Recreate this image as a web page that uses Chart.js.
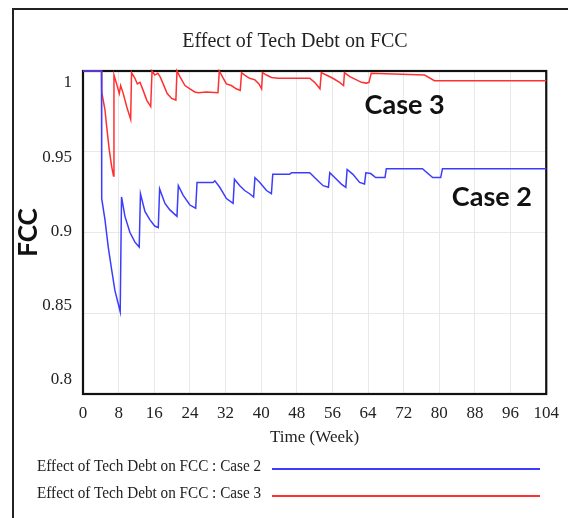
<!DOCTYPE html>
<html>
<head>
<meta charset="utf-8">
<title>Effect of Tech Debt on FCC</title>
<script src="https://cdn.jsdelivr.net/npm/chart.js@4.4.1/dist/chart.umd.min.js"></script>
<style>
    body { margin: 0; background: #fff; overflow: hidden; }
    #wrap { position: relative; width: 568px; height: 518px; }
    #frame {
        position: absolute; left: 12px; top: 8px; width: 600px; height: 600px;
        border-left: 2px solid #222; border-top: 2px solid #222;
    }
    #wrap canvas { position: absolute; left: 0; top: 0; }
</style>
</head>
<body>
<div id="wrap">
    <div id="frame"></div>
    <canvas id="fccChart" width="568" height="518"></canvas>
</div>
<script>
// Data (time in weeks, FCC value)
const xTicks = [0, 8, 16, 24, 32, 40, 48, 56, 64, 72, 80, 88, 96, 104];
const yTicks = [0.8, 0.85, 0.9, 0.95, 1];

const case2Time = [0, 4.15, 4.2, 4.93, 5.67, 6.43, 7.17, 8.35, 8.65, 9.42, 10.54, 11.66, 12.62, 12.9, 13.9, 15.0, 16.1, 16.9, 17.2, 18.4, 19.5, 21.1, 21.4, 22.5, 24.0, 25.3, 25.6, 29.2, 29.6, 30.7, 32.2, 33.7, 34.0, 35.2, 36.3, 37.4, 38.3, 38.6, 39.7, 41.2, 42.3, 42.6, 46.4, 46.8, 50.9, 52.4, 53.9, 55.1, 55.4, 56.5, 58.0, 59.0, 59.3, 60.6, 62.1, 63.2, 63.5, 64.6, 65.7, 67.8, 68.1, 76.2, 78.5, 80.3, 80.7, 104];
const case2Value = [1, 1, 0.921, 0.908, 0.891, 0.877, 0.864, 0.851, 0.922, 0.910, 0.900, 0.894, 0.891, 0.924, 0.913, 0.908, 0.904, 0.903, 0.927, 0.918, 0.914, 0.910, 0.929, 0.923, 0.917, 0.915, 0.931, 0.931, 0.932, 0.928, 0.921, 0.918, 0.933, 0.929, 0.926, 0.924, 0.922, 0.934, 0.931, 0.926, 0.924, 0.936, 0.936, 0.937, 0.937, 0.933, 0.929, 0.928, 0.937, 0.934, 0.930, 0.928, 0.939, 0.936, 0.931, 0.930, 0.937, 0.9365, 0.934, 0.934, 0.9395, 0.9395, 0.934, 0.934, 0.9395, 0.9395];

const case3Time = [0, 4.15, 4.2, 4.93, 5.3, 5.9, 6.43, 6.85, 6.95, 7.55, 8.14, 8.45, 9.04, 9.8, 10.7, 10.9, 11.66, 12.2, 12.8, 13.5, 14.3, 15.2, 15.5, 16.1, 16.8, 17.3, 18.0, 18.9, 19.9, 20.85, 21.1, 21.75, 22.9, 24.0, 25.1, 25.9, 27.7, 30.3, 30.6, 31.5, 32.2, 33.3, 34.4, 35.3, 35.6, 36.3, 37.4, 38.6, 39.5, 40.1, 40.3, 41.2, 42.3, 43.8, 50.9, 52.0, 53.2, 53.5, 54.6, 56.1, 57.6, 58.5, 58.7, 59.9, 61.4, 62.5, 63.6, 64.2, 64.7, 76.7, 78.9, 104];
const case3Value = [1, 1, 0.987, 0.976, 0.966, 0.951, 0.941, 0.935, 0.9975, 0.992, 0.986, 0.991, 0.986, 0.978, 0.970, 0.999, 0.9955, 0.992, 0.993, 0.988, 0.982, 0.978, 1.0, 0.9975, 0.9986, 0.9965, 0.992, 0.986, 0.983, 0.982, 1.0, 0.9965, 0.991, 0.989, 0.987, 0.9866, 0.987, 0.9866, 1.0, 0.9955, 0.992, 0.991, 0.989, 0.988, 0.999, 0.9975, 0.9955, 0.9945, 0.992, 0.989, 0.999, 0.9975, 0.996, 0.9955, 0.9955, 0.993, 0.989, 0.999, 0.9975, 0.9955, 0.993, 0.991, 0.999, 0.9965, 0.9945, 0.993, 0.9925, 0.993, 0.9986, 0.9975, 0.994, 0.994];

// text labels placed in data units (week, FCC)
const caseLabels = ['Case 3', 'Case 2'];
const caseLabelX = [72.2, 91.8];
const caseLabelY = [0.979, 0.922];

const serif = 'Liberation Serif, Times New Roman, serif';
const textColor = '#222';
const gridColor = '#e8e8e8';

function toPoints(times, values) {
    return times.map((t, i) => ({ x: t, y: values[i] }));
}

function setTicks(list) {
    return scale => { scale.ticks = list.map(v => ({ value: v })); };
}

// Plot border, "Case" labels and the bottom legend
const extras = {
    id: 'extras',
    beforeDatasetsDraw(chart) {
        const { ctx, chartArea: a } = chart;
        ctx.save();
        ctx.strokeStyle = '#111';
        ctx.lineWidth = 2.2;
        ctx.strokeRect(a.left, a.top, a.right - a.left, a.bottom - a.top);
        ctx.restore();
    },
    afterDatasetsDraw(chart) {
        const { ctx, scales } = chart;
        ctx.save();
        ctx.font = 'bold 27px Lato, "Open Sans", sans-serif';
        ctx.fillStyle = '#111';
        ctx.textAlign = 'center';
        ctx.textBaseline = 'middle';
        caseLabels.forEach((txt, i) => {
            ctx.fillText(txt, scales.x.getPixelForValue(caseLabelX[i]), scales.y.getPixelForValue(caseLabelY[i]));
        });
        ctx.restore();
    },
    afterDraw(chart) {
        const ctx = chart.ctx;
        chart.data.datasets.forEach((ds, i) => {
            const y = 467 + i * 27;
            // legend text is a little condensed in the reference
            ctx.save();
            ctx.font = '16px ' + serif;
            ctx.textBaseline = 'middle';
            ctx.textAlign = 'left';
            ctx.fillStyle = textColor;
            ctx.translate(37, y);
            ctx.scale(0.95, 1);
            ctx.fillText(ds.label, 0, 0);
            ctx.restore();

            ctx.save();
            ctx.strokeStyle = ds.borderColor;
            ctx.lineWidth = 2;
            ctx.beginPath();
            ctx.moveTo(272, y + 2);
            ctx.lineTo(540, y + 2);
            ctx.stroke();
            ctx.restore();
        });
    }
};

const ctx = document.getElementById('fccChart');
new Chart(ctx, {
    type: 'line',
    data: {
        datasets: [
            {
                label: 'Effect of Tech Debt on FCC : Case 2',
                data: toPoints(case2Time, case2Value),
                borderColor: '#3c3cff',
                borderWidth: 1.5,
                pointRadius: 0,
                tension: 0,
                clip: 4
            },
            {
                label: 'Effect of Tech Debt on FCC : Case 3',
                data: toPoints(case3Time, case3Value),
                borderColor: '#ff3030',
                borderWidth: 1.5,
                pointRadius: 0,
                tension: 0,
                clip: 4
            }
        ]
    },
    options: {
        responsive: false,
        animation: false,
        layout: { padding: { left: 22, right: 0, top: 0, bottom: 70 } },
        plugins: {
            legend: { display: false },
            tooltip: { enabled: false },
            title: {
                display: true,
                text: 'Effect of Tech Debt on FCC',
                color: textColor,
                font: { family: serif, size: 20, weight: 'normal' },
                padding: { top: 30, bottom: 17 }
            }
        },
        scales: {
            x: {
                type: 'linear',
                min: 0,
                max: 104,
                afterBuildTicks: setTicks(xTicks),
                afterFit: s => { s.height = 54; },
                grid: { color: gridColor, drawTicks: false },
                border: { display: false },
                ticks: { padding: 9, color: textColor, font: { family: serif, size: 17 }, maxRotation: 0, autoSkip: false },
                title: {
                    display: true,
                    text: 'Time (Week)',
                    color: textColor,
                    font: { family: serif, size: 17 },
                    padding: { top: 2, bottom: 0 }
                }
            },
            y: {
                position: 'right',
                min: 0.8,
                max: 1.0,
                afterBuildTicks: setTicks(yTicks),
                afterFit: s => { s.width = 21; },
                grid: { color: gridColor, drawTicks: false },
                border: { display: false },
                ticks: { display: false }
            },
            // label-only axis: the reference prints its labels slightly off the gridlines
            yLabels: {
                position: 'left',
                min: 0.79057,
                max: 1.00808,
                afterBuildTicks: setTicks(yTicks),
                afterFit: s => { s.width = 61; },
                grid: { display: false, drawTicks: false },
                border: { display: false },
                ticks: {
                    padding: 11,
                    color: textColor,
                    font: { family: serif, size: 17 },
                    callback: v => String(+v.toFixed(2))
                },
                title: {
                    display: true,
                    text: 'FCC',
                    color: '#111',
                    font: { family: 'Lato, "Open Sans", sans-serif', size: 26, weight: 'bold', lineHeight: '14px' },
                    padding: 0
                }
            }
        }
    },
    plugins: [extras]
});
</script>
</body>
</html>
